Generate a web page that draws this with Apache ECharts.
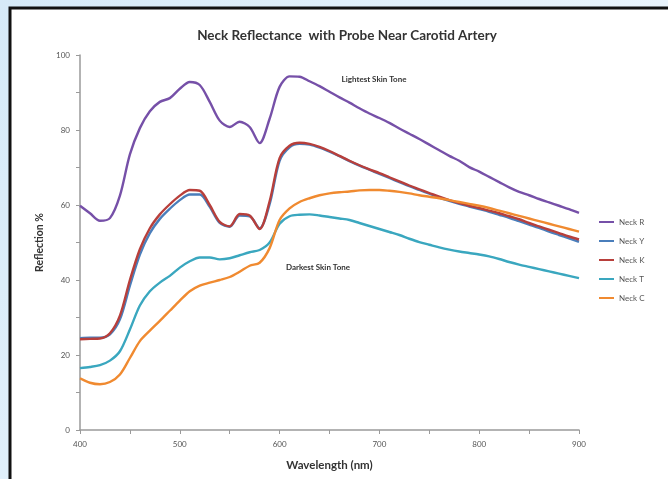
<!DOCTYPE html>
<html>
<head>
<meta charset="utf-8">
<script src="https://cdn.jsdelivr.net/npm/echarts@6/dist/echarts.min.js"></script>
<style>
html, body { margin: 0; padding: 0; }
#chart { width: 668px; height: 479px; }
</style>
</head>
<body>
<div id="chart"></div>
<script>
// wavelength grid, nm
var wavelengths = [400,410,420,430,440,450,460,470,480,490,500,510,520,530,540,550,560,570,580,590,
	600,610,620,630,640,650,660,670,680,690,700,710,720,730,740,750,760,770,780,790,
	800,810,820,830,840,850,860,870,880,890,900];

var neckR = [59.8,57.8,55.8,56.5,62.5,73.5,80.5,85,87.5,88.5,91,92.8,92,87.5,82.5,80.8,82.2,80.8,76.5,83,
	91.5,94.3,94.2,93,91.7,90.2,88.7,87.3,85.8,84.4,83.2,81.9,80.4,79,77.6,76.1,74.6,73.1,71.8,70.1,
	68.9,67.5,66.1,64.7,63.5,62.6,61.6,60.7,59.8,58.9,57.9];
var neckY = [24.5,24.6,24.6,25.5,29.5,38.5,46.8,52.5,56.3,59,61.3,62.8,62.8,59.5,55.2,54.2,57.2,57,53.8,60.2,
	71.8,75.4,76.3,76.1,75.3,74.2,73,71.7,70.5,69.4,68.3,67.2,66.1,65,64,63,62,61.1,60.3,59.6,
	58.9,58.2,57.4,56.6,55.7,54.8,53.9,52.9,52,51.1,50.2];
var neckK = [24.2,24.3,24.4,25.8,30.5,40,48.2,53.8,57.5,60.2,62.5,64,63.8,60,55.5,54.3,57.6,57.2,53.6,61,
	72.5,75.8,76.6,76.3,75.5,74.4,73.1,71.8,70.6,69.5,68.5,67.4,66.3,65.2,64.2,63.2,62.2,61.3,60.5,59.8,
	59.2,58.5,57.8,57,56.2,55.2,54.3,53.4,52.5,51.6,50.8];
var neckT = [16.5,16.8,17.3,18.5,21,26.8,33.2,37,39.3,41.1,43.3,45,46,46,45.5,45.8,46.6,47.4,48,50,
	55,57,57.4,57.5,57.2,56.8,56.4,56,55.2,54.4,53.6,52.8,52,51,50.1,49.4,48.7,48.1,47.6,47.2,
	46.8,46.3,45.6,44.8,44.1,43.5,42.9,42.3,41.7,41.1,40.5];
var neckC = [13.8,12.6,12.2,12.8,14.8,19.2,23.7,26.5,29.1,31.8,34.5,37,38.5,39.3,40,40.8,42.2,43.8,44.6,48.5,
	56,59.1,60.8,61.8,62.6,63.1,63.4,63.6,63.9,64,64,63.8,63.5,63.1,62.6,62.2,61.8,61.3,60.8,60.3,
	59.8,59.2,58.5,57.8,57.1,56.4,55.7,55,54.3,53.6,52.9];

var seriesNames = ['Neck R', 'Neck Y', 'Neck K', 'Neck T', 'Neck C'];
var seriesData = [neckR, neckY, neckK, neckT, neckC];
var seriesColors = ['#7650a8', '#4a7ebb', '#b83f3b', '#3aa7bf', '#f08a30'];

var font = 'Lato, "Open Sans", sans-serif';

function pairs(values) {
	return wavelengths.map(function(w, i) { return [w, values[i]]; });
}

var chart = echarts.init(document.getElementById('chart'));

var series = seriesNames.map(function(name, i) {
	return {
		name: name,
		type: 'line',
		data: pairs(seriesData[i]),
		symbol: 'none',
		smooth: 0.3,
		lineStyle: { width: 2.4, color: seriesColors[i] },
		itemStyle: { color: seriesColors[i] },
		z: 2 + i
	};
});

chart.setOption({
	animation: false,
	backgroundColor: {
		type: 'linear', x: 0, y: 0, x2: 1, y2: 1,
		colorStops: [{ offset: 0, color: '#d6eaf8' }, { offset: 1, color: '#f3f9fe' }]
	},
	graphic: [
		{
			type: 'rect', z: -10,
			shape: { x: 10, y: 8, width: 700, height: 500 },
			style: { fill: '#ffffff', stroke: '#111111', lineWidth: 3 }
		},
		{
			type: 'text', z: 10,
			style: { text: 'Lightest Skin Tone', x: 374, y: 79, align: 'center', verticalAlign: 'middle',
				font: 'bold 8px ' + font, fill: '#333333' }
		},
		{
			type: 'text', z: 10,
			style: { text: 'Darkest Skin Tone', x: 318, y: 267, align: 'center', verticalAlign: 'middle',
				font: 'bold 8px ' + font, fill: '#333333' }
		}
	],
	title: {
		text: 'Neck Reflectance  with Probe Near Carotid Artery',
		left: 342, top: 24, textAlign: 'center',
		textStyle: { fontFamily: font, fontSize: 13.5, fontWeight: 'bold', color: '#333333' }
	},
	legend: {
		data: seriesNames,
		orient: 'vertical',
		left: 598, top: 218, padding: 0,
		itemWidth: 15, itemHeight: 10, itemGap: 11,
		itemStyle: { opacity: 0 },
		textStyle: { fontFamily: font, fontSize: 8, color: '#555555' }
	},
	grid: { left: 80, right: 89, top: 55, bottom: 49 },
	xAxis: {
		type: 'value', min: 400, max: 900, interval: 50,
		name: 'Wavelength (nm)', nameLocation: 'middle', nameGap: 29,
		nameTextStyle: { fontFamily: font, fontSize: 11.5, fontWeight: 'bold', color: '#333333' },
		axisLine: { lineStyle: { color: '#9a9a9a', width: 1.5 } },
		axisTick: { show: true, length: 4, lineStyle: { color: '#9a9a9a' } },
		axisLabel: {
			fontFamily: font, fontSize: 8, color: '#555555', margin: 10,
			formatter: function(v) { return v % 100 === 0 ? String(v) : ''; }
		},
		splitLine: { show: false }
	},
	yAxis: {
		type: 'value', min: 0, max: 100, interval: 10,
		name: 'Reflection %', nameLocation: 'middle', nameGap: 27,
		nameTextStyle: { fontFamily: font, fontSize: 10.5, fontWeight: 'bold', color: '#333333' },
		axisLine: { show: true, lineStyle: { color: '#9a9a9a', width: 1.5 } },
		axisTick: { show: true, length: 4, lineStyle: { color: '#9a9a9a' } },
		axisLabel: {
			fontFamily: font, fontSize: 8, color: '#555555', margin: 10,
			formatter: function(v) { return v % 20 === 0 ? String(v) : ''; }
		},
		splitLine: { show: false }
	},
	series: series
});
</script>
</body>
</html>
